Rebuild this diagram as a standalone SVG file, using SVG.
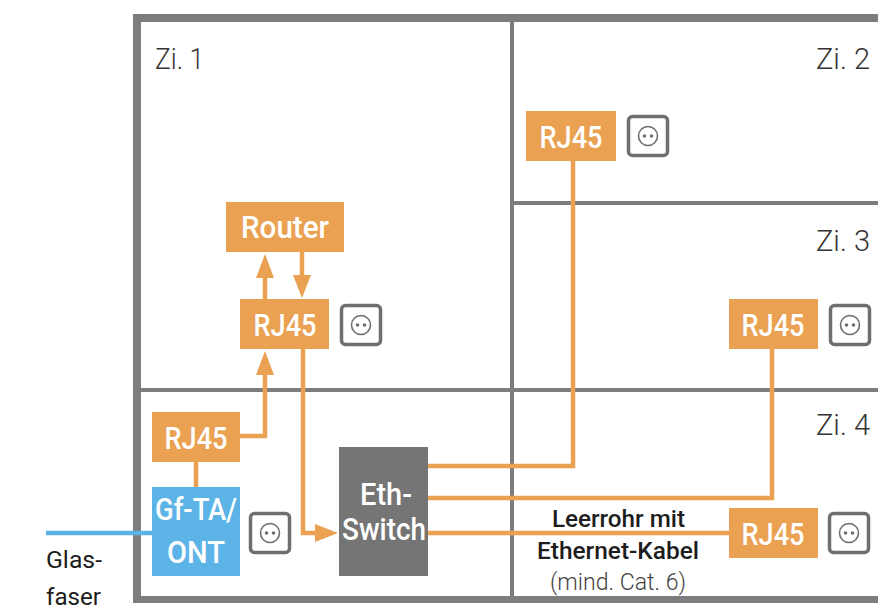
<svg xmlns="http://www.w3.org/2000/svg" width="878" height="614" viewBox="0 0 878 614">
<style>
.wall{fill:#7d7d7d}
.o{fill:#eaa152}
.t{font-family:Roboto,"Liberation Sans",sans-serif;font-weight:500;fill:#fff;text-anchor:middle;font-size:31px}
.zi{font-family:Roboto,"Liberation Sans",sans-serif;font-weight:300;fill:#333;font-size:29px}
.k{font-family:Roboto,"Liberation Sans",sans-serif;fill:#1d1d1d;font-size:23px}
.km{font-weight:500;text-anchor:middle}
.g{fill:#444;font-weight:300;text-anchor:middle}
.c{fill:none;stroke:#eaa152;stroke-width:4.5}
.sock rect{fill:#fff;stroke:#6f6f6f;stroke-width:3.5}
.sock circle.r{fill:none;stroke:#6f6f6f;stroke-width:1.6}
.sock circle.d{fill:#6f6f6f}
</style>
<defs>
<g id="socket" class="sock"><rect x="-19.5" y="-19.5" width="39" height="39" rx="4"/><circle class="r" r="9.5"/><circle class="d" cx="-3.5" r="1.8"/><circle class="d" cx="3.5" r="1.8"/></g>
</defs>
<rect width="878" height="614" fill="#fff"/>
<g id="walls">
<rect class="wall" x="133" y="14" width="745" height="8"/>
<rect class="wall" x="133" y="14" width="8" height="589"/>
<rect class="wall" x="133" y="596" width="745" height="7"/>
<rect class="wall" x="510" y="20" width="4" height="578"/>
<rect class="wall" x="512" y="201" width="366" height="4"/>
<rect class="wall" x="139" y="388" width="739" height="4"/>
</g>
<g id="labels">
<text class="zi" x="155" y="69" textLength="49" lengthAdjust="spacingAndGlyphs">Zi. 1</text>
<text class="zi" x="816" y="69" textLength="54" lengthAdjust="spacingAndGlyphs">Zi. 2</text>
<text class="zi" x="816" y="251" textLength="54" lengthAdjust="spacingAndGlyphs">Zi. 3</text>
<text class="zi" x="816" y="435" textLength="54" lengthAdjust="spacingAndGlyphs">Zi. 4</text>
<text class="k" x="46" y="568" textLength="56" lengthAdjust="spacingAndGlyphs">Glas-</text>
<text class="k" x="46" y="605" textLength="55" lengthAdjust="spacingAndGlyphs">faser</text>
<text class="k km" x="618.5" y="527" textLength="133" lengthAdjust="spacingAndGlyphs">Leerrohr mit</text>
<text class="k km" x="618" y="559" textLength="162" lengthAdjust="spacingAndGlyphs">Ethernet-Kabel</text>
<text class="k g" x="618" y="590" textLength="136" lengthAdjust="spacingAndGlyphs">(mind. Cat. 6)</text>
</g>
<g id="connectors">
<path d="M46 533H152" fill="none" stroke="#5cb4e6" stroke-width="4.5"/>
<path class="c" d="M196 462V487"/>
<path class="c" d="M240 436H265V372"/>
<path class="c" d="M265 299V276"/>
<path class="c" d="M302 252V276"/>
<path class="c" d="M303 349V533H316"/>
<path class="c" d="M428 466H573V161"/>
<path class="c" d="M428 498H772V349"/>
<path class="c" d="M428 533H729"/>
<polygon class="o" points="265,351 256,375 274,375"/>
<polygon class="o" points="265,254 256,278 274,278"/>
<polygon class="o" points="302,298 293,275 311,275"/>
<polygon class="o" points="338,533 315,524 315,542"/>
</g>
<g id="router"><rect class="o" x="226" y="202" width="118" height="50"/><text class="t" x="285" y="238" textLength="88" lengthAdjust="spacingAndGlyphs">Router</text></g>
<g id="rj45-zi1"><rect class="o" x="240" y="299" width="89" height="50"/><text class="t" x="285" y="336" textLength="63" lengthAdjust="spacingAndGlyphs">RJ45</text><use href="#socket" x="361" y="325"/></g>
<g id="rj45-zi2"><rect class="o" x="526" y="111" width="90" height="50"/><text class="t" x="571" y="148" textLength="63" lengthAdjust="spacingAndGlyphs">RJ45</text><use href="#socket" x="648" y="136"/></g>
<g id="rj45-zi3"><rect class="o" x="729" y="299" width="89" height="50"/><text class="t" x="773" y="336" textLength="63" lengthAdjust="spacingAndGlyphs">RJ45</text><use href="#socket" x="850" y="325"/></g>
<g id="rj45-zi4"><rect class="o" x="729" y="508" width="89" height="50"/><text class="t" x="773" y="545" textLength="63" lengthAdjust="spacingAndGlyphs">RJ45</text><use href="#socket" x="849" y="533"/></g>
<g id="rj45-ont"><rect class="o" x="152" y="412" width="88" height="50"/><text class="t" x="196" y="449" textLength="63" lengthAdjust="spacingAndGlyphs">RJ45</text></g>
<g id="ont"><rect x="152" y="487" width="88" height="89" fill="#5cb4e6"/><text class="t" x="196" y="520" textLength="82" lengthAdjust="spacingAndGlyphs">Gf-TA/</text><text class="t" x="196" y="563" textLength="58" lengthAdjust="spacingAndGlyphs">ONT</text><use href="#socket" x="270" y="533"/></g>
<g id="switch"><rect x="339" y="447" width="89" height="129" fill="#757575"/><text class="t" x="386" y="505" textLength="52" lengthAdjust="spacingAndGlyphs">Eth-</text><text class="t" x="384" y="540" textLength="84" lengthAdjust="spacingAndGlyphs">Switch</text></g>
</svg>
